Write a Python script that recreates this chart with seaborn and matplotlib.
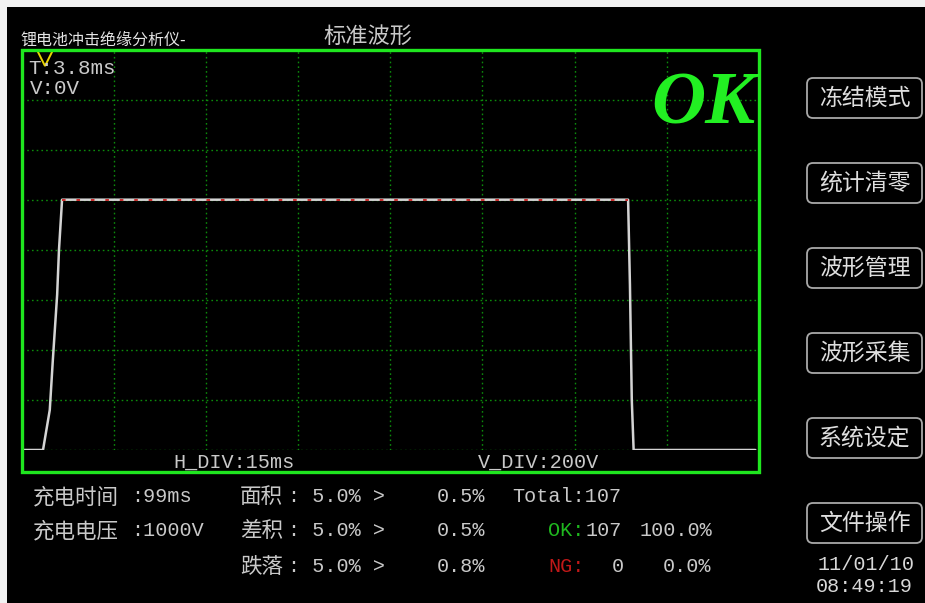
import numpy as np
import pandas as pd
import matplotlib
matplotlib.use("Agg")
import matplotlib.pyplot as plt
from matplotlib.patches import Rectangle, FancyBboxPatch
import seaborn as sns

# ---- data -------------------------------------------------------------
# measured pulse: time (ms) and voltage (V)
time_ms = [0.0, 3.5, 4.6, 5.1, 5.8, 6.1, 6.6, 98.7, 99.0, 99.3, 99.6, 119.4]
volts = [0, 0, 160, 360, 620, 800, 1000, 1000, 660, 200, 0, 0]
# stored standard waveform (plateau segment)
std_time_ms = [6.6, 98.7]
std_volts = [1000, 1000]

h_div_ms = 15
v_div_v = 200
n_div = 8
cursor_t = 3.8
cursor_v = 0

charge_time = "99ms"
charge_volt = "1000V"
check_names = ["面积", "差积", "跌落"]
check_limits = ["5.0%", "5.0%", "5.0%"]
check_values = ["0.5%", "0.5%", "0.8%"]
total_count = 107
ok_count = 107
ng_count = 0
ok_pct = "100.0%"
ng_pct = "0.0%"
buttons = ["冻结模式", "统计清零", "波形管理", "波形采集", "系统设定", "文件操作"]
date_str = "11/01/10"
clock_str = "08:49:19"

# ---- style ------------------------------------------------------------
sns.set_theme(style="dark", rc={"axes.facecolor": "black", "figure.facecolor": "black"})
plt.rcParams["font.family"] = ["Noto Sans CJK SC", "DejaVu Sans"]
MONO = ["Liberation Mono", "Noto Sans CJK SC"]
CJK = ["Noto Sans CJK SC", "DejaVu Sans"]
TXT = "#c9c9c9"
GREEN = "#1fe61f"

W, H = 925, 603
fig = plt.figure(figsize=(W / 100, H / 100), dpi=100)
fig.patch.set_facecolor("black")

# scope area (pixel frame of the screen)
L, R, T, B = 21.5, 759.0, 49.5, 450.0
ax = fig.add_axes([L / W, 1 - B / H, (R - L) / W, (B - T) / H])
ax.set_facecolor("black")
ax.set_xlim(0, h_div_ms * n_div)
ax.set_ylim(0, v_div_v * n_div)
ax.set_xticks(np.arange(0, h_div_ms * n_div + 1, h_div_ms))
ax.set_yticks(np.arange(0, v_div_v * n_div + 1, v_div_v))
ax.grid(True, color="#0c8a0c", linestyle=(0, (1.2, 2.2)), lw=1.0)
ax.tick_params(length=0, labelbottom=False, labelleft=False)
for s in ax.spines.values():
    s.set_visible(False)

wave = pd.DataFrame({"t": time_ms, "v": volts})
sns.lineplot(data=wave, x="t", y="v", ax=ax, color="#d4d4d4", lw=1.8,
             sort=False, estimator=None)
std = pd.DataFrame({"t": std_time_ms, "v": std_volts})
sns.lineplot(data=std, x="t", y="v", ax=ax, color="#c81c1c", lw=1.3,
             sort=False, estimator=None)
ax.lines[-1].set_linestyle((0, (2, 6)))
ax.set_xlabel("")
ax.set_ylabel("")

# cursor marker at the top edge
ax.plot([cursor_t], [v_div_v * (n_div - 0.17)], marker="v", ms=12, mfc="none",
        mec="#e8d400", mew=1.4, ls="none", clip_on=False, zorder=5)

# ---- overlay in pixel coordinates --------------------------------------
ov = fig.add_axes([0, 0, 1, 1], zorder=3)
ov.set_xlim(0, W)
ov.set_ylim(H, 0)
ov.axis("off")
ov.patch.set_alpha(0)

ov.add_patch(Rectangle((0, 0), 7, H, color="#f2f2f2", lw=0))
ov.add_patch(Rectangle((0, 0), W, 7, color="#f2f2f2", lw=0))
ov.add_patch(Rectangle((L, T), R - L, 472 - T, fill=False, ec=GREEN, lw=2.4))


def put(x, y, s, size, color=TXT, family=MONO, ha="left", **kw):
    ov.text(x, y, s, fontsize=size, color=color, family=family, ha=ha,
            va="center", **kw)


put(20, 40, "锂电池冲击绝缘分析仪-", 11.5, color="#e4e4e4", family=CJK)
put(368, 36, "标准波形", 16, family=CJK, ha="center")
put(28, 69, f"T:{cursor_t}ms", 15)
put(30, 89, f"V:{cursor_v}V", 15)
ov.text(703, 124, "OK", fontsize=54, color="#22f022", family="Liberation Serif",
        weight="bold", style="italic", ha="center", va="baseline")

put(173, 462, f"H_DIV:{h_div_ms}ms", 14.5)
put(478, 462, f"V_DIV:{v_div_v}V", 14.5)

rows = [497, 531, 567]
put(33, rows[0], "充电时间", 15.5, family=CJK)
put(131, rows[0], ":" + charge_time, 14.5)
put(33, rows[1], "充电电压", 15.5, family=CJK)
put(131, rows[1], ":" + charge_volt, 14.5)
for y, name, lim, val in zip(rows, check_names, check_limits, check_values):
    put(240, y, name, 15.5, family=CJK)
    put(288, y, f": {lim} >", 14.5)
    put(437, y, val, 14.5)

put(512, rows[0], f"Total:{total_count}", 14.5)
put(548, rows[1], "OK:", 14.5, color="#1fb81f")
put(586, rows[1], f"{ok_count}", 14.5)
put(640, rows[1], ok_pct, 14.5)
put(548, rows[2], "NG:", 14.5, color="#c01818")
put(612, rows[2], f"{ng_count}", 14.5)
put(663, rows[2], ng_pct, 14.5)

put(866, 565, date_str, 14.5, ha="center", color="#d8d8d8")
put(864, 587, clock_str, 14.5, ha="center", color="#d8d8d8")

# side menu buttons
for i, label in enumerate(buttons):
    top = 78 + 85 * i
    ov.add_patch(FancyBboxPatch((807, top), 115, 40,
                                boxstyle="round,pad=0,rounding_size=6",
                                fill=False, ec="#a9a9a9", lw=1.3))
    put(864.5, top + 20, label, 16.5, family=CJK, ha="center", color="#dedede")

fig.savefig("out.png", dpi=100, facecolor=fig.get_facecolor())
